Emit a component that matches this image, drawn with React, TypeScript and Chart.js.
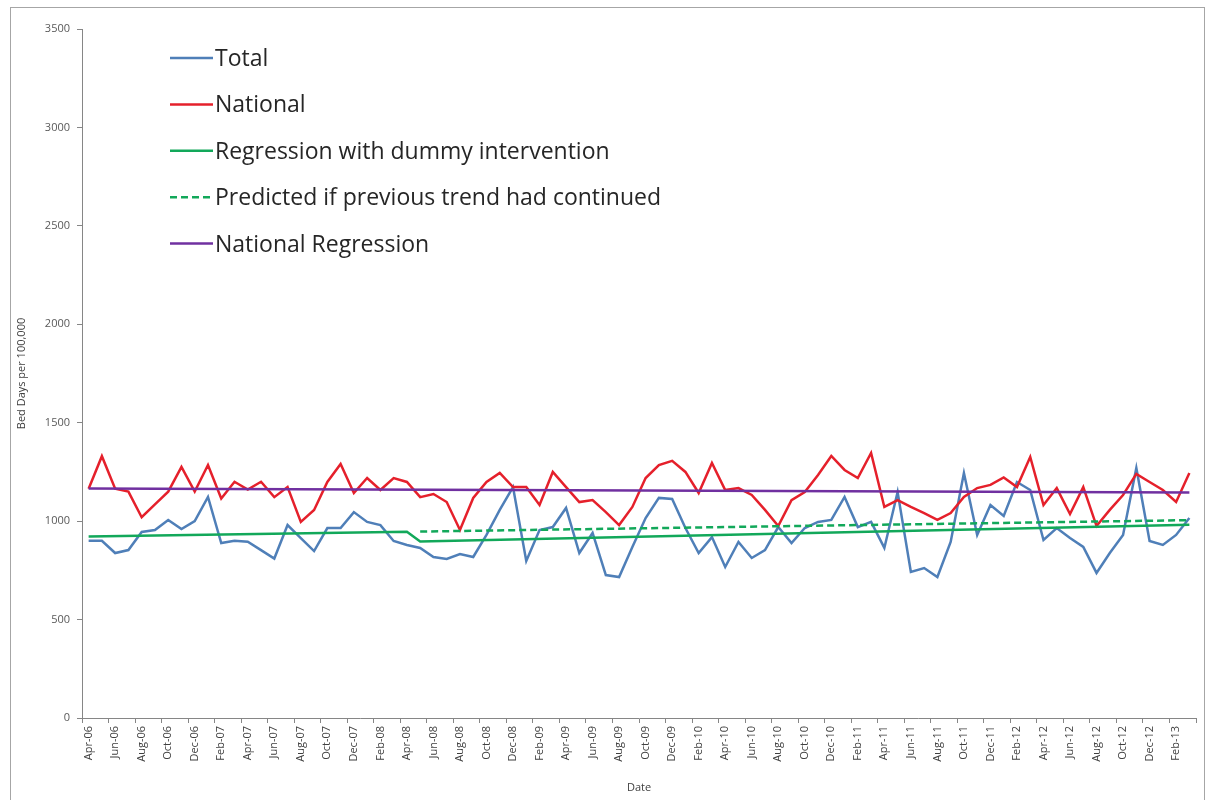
import React, { useEffect, useRef } from 'react';
import { Chart, registerables } from 'chart.js';

Chart.register(...registerables);

const months: string[] = [
  'Apr-06', 'May-06', 'Jun-06', 'Jul-06', 'Aug-06', 'Sep-06', 'Oct-06', 'Nov-06', 'Dec-06', 'Jan-07', 'Feb-07', 'Mar-07',
  'Apr-07', 'May-07', 'Jun-07', 'Jul-07', 'Aug-07', 'Sep-07', 'Oct-07', 'Nov-07', 'Dec-07', 'Jan-08', 'Feb-08', 'Mar-08',
  'Apr-08', 'May-08', 'Jun-08', 'Jul-08', 'Aug-08', 'Sep-08', 'Oct-08', 'Nov-08', 'Dec-08', 'Jan-09', 'Feb-09', 'Mar-09',
  'Apr-09', 'May-09', 'Jun-09', 'Jul-09', 'Aug-09', 'Sep-09', 'Oct-09', 'Nov-09', 'Dec-09', 'Jan-10', 'Feb-10', 'Mar-10',
  'Apr-10', 'May-10', 'Jun-10', 'Jul-10', 'Aug-10', 'Sep-10', 'Oct-10', 'Nov-10', 'Dec-10', 'Jan-11', 'Feb-11', 'Mar-11',
  'Apr-11', 'May-11', 'Jun-11', 'Jul-11', 'Aug-11', 'Sep-11', 'Oct-11', 'Nov-11', 'Dec-11', 'Jan-12', 'Feb-12', 'Mar-12',
  'Apr-12', 'May-12', 'Jun-12', 'Jul-12', 'Aug-12', 'Sep-12', 'Oct-12', 'Nov-12', 'Dec-12', 'Jan-13', 'Feb-13', 'Mar-13',
];

const totalValues: number[] = [
  900, 900, 838, 853, 945, 955, 1006, 960, 1000, 1123, 889, 900,
  895, 853, 810, 980, 914, 848, 965, 965, 1046, 996, 980, 899,
  879, 864, 818, 808, 833, 818, 930, 1057, 1173, 798, 955, 970,
  1067, 838, 940, 726, 716, 869, 1016, 1118, 1113, 965, 838, 919,
  767, 894, 813, 853, 970, 889, 965, 996, 1006, 1123, 970, 996,
  864, 1148, 742, 762, 716, 894, 1245, 930, 1082, 1026, 1199, 1158,
  904, 965, 914, 869, 737, 838, 930, 1270, 899, 879, 930, 1016,
];

const nationalValues: number[] = [
  1165, 1330, 1165, 1150, 1020, 1085, 1150, 1275, 1150, 1285, 1115, 1200,
  1160, 1200, 1122, 1173, 996, 1057, 1199, 1290, 1143, 1219, 1158, 1219,
  1199, 1122, 1138, 1097, 955, 1118, 1199, 1245, 1173, 1173, 1082, 1250,
  1173, 1097, 1107, 1046, 980, 1072, 1219, 1285, 1306, 1250, 1143, 1295,
  1158, 1168, 1133, 1057, 975, 1107, 1148, 1234, 1331, 1260, 1219, 1346,
  1072, 1107, 1072, 1041, 1006, 1041, 1123, 1168, 1184, 1222, 1173, 1326,
  1082, 1168, 1036, 1173, 975, 1057, 1133, 1240, 1199, 1158, 1097, 1245,
];

// Regression lines: end points of each straight segment
const regressionDummy = [
  { x: 'Apr-06', y: 922 },
  { x: 'Apr-08', y: 946 },
  { x: 'May-08', y: 897 },
  { x: 'Mar-13', y: 982 },
];

const predictedTrend = [
  { x: 'May-08', y: 947 },
  { x: 'Mar-13', y: 1005 },
];

const nationalRegression = [
  { x: 'Apr-06', y: 1166 },
  { x: 'Mar-13', y: 1146 },
];

const yTicks: number[] = [0, 500, 1000, 1500, 2000, 2500, 3000, 3500];

const seriesNames = [
  'Total',
  'National',
  'Regression with dummy intervention',
  'Predicted if previous trend had continued',
  'National Regression',
];

const AXIS_GRAY = '#868686';

const insideLegend = {
  id: 'insideLegend',
  afterDraw(chart: any) {
    const { ctx, chartArea } = chart;
    const x0 = chartArea.left + 88;
    const y0 = chartArea.top + 29;
    const gap = 46.4;
    chart.data.datasets.forEach((ds: any, i: number) => {
      const y = y0 + i * gap;
      ctx.save();
      ctx.strokeStyle = ds.borderColor;
      ctx.lineWidth = 2.5;
      ctx.setLineDash(ds.borderDash || []);
      ctx.beginPath();
      ctx.moveTo(x0, y);
      ctx.lineTo(x0 + 43, y);
      ctx.stroke();
      ctx.setLineDash([]);
      ctx.fillStyle = '#262626';
      ctx.font = '23px "Open Sans"';
      ctx.textBaseline = 'alphabetic';
      ctx.textAlign = 'left';
      ctx.fillText(ds.label, x0 + 45, y + 8);
      ctx.restore();
    });
  },
};

export default function App() {
  const canvasRef = useRef<HTMLCanvasElement | null>(null);

  useEffect(() => {
    if (!canvasRef.current) return;
    Chart.defaults.font.family = '"Open Sans", "Liberation Sans", sans-serif';

    const tickMarkColor = (c: any) =>
      c.index === undefined || c.index % 2 === 0 ? AXIS_GRAY : 'rgba(0,0,0,0)';

    const chart = new Chart(canvasRef.current, {
      type: 'line',
      data: {
        labels: months,
        datasets: [
          {
            label: seriesNames[0],
            data: totalValues,
            borderColor: '#4F7FB8',
            borderWidth: 2.5,
            pointRadius: 0,
            tension: 0,
            order: 5,
          },
          {
            label: seriesNames[1],
            data: nationalValues,
            borderColor: '#E5202B',
            borderWidth: 2.5,
            pointRadius: 0,
            tension: 0,
            order: 4,
          },
          {
            label: seriesNames[2],
            data: regressionDummy as any,
            borderColor: '#12A85A',
            borderWidth: 2.5,
            pointRadius: 0,
            tension: 0,
            order: 3,
          },
          {
            label: seriesNames[3],
            data: predictedTrend as any,
            borderColor: '#12A85A',
            borderWidth: 2.5,
            borderDash: [7, 4],
            pointRadius: 0,
            tension: 0,
            order: 2,
          },
          {
            label: seriesNames[4],
            data: nationalRegression as any,
            borderColor: '#7030A0',
            borderWidth: 2.5,
            pointRadius: 0,
            tension: 0,
            order: 1,
          },
        ],
      },
      options: {
        animation: false,
        responsive: true,
        maintainAspectRatio: false,
        layout: { padding: { left: 10, top: 29, right: 13, bottom: 0 } },
        plugins: {
          legend: { display: false },
          tooltip: { enabled: false },
        },
        scales: {
          x: {
            type: 'category',
            offset: true,
            afterFit: (scale: any) => {
              scale.height = 82;
            },
            border: { display: true, color: AXIS_GRAY, width: 1 },
            grid: {
              display: true,
              offset: true,
              drawOnChartArea: false,
              drawTicks: true,
              tickLength: 5,
              color: tickMarkColor,
              tickColor: tickMarkColor,
            },
            ticks: {
              autoSkip: false,
              maxRotation: 90,
              minRotation: 90,
              padding: 3,
              color: '#404040',
              font: { size: 11 },
              callback: function (this: any, val: any, index: number) {
                return index % 2 === 0 ? this.getLabelForValue(val) : '';
              },
            },
            title: {
              display: true,
              text: 'Date',
              color: '#404040',
              font: { size: 11 },
              padding: { top: 0, bottom: 6 },
            },
          },
          y: {
            min: 0,
            max: 3500,
            afterFit: (scale: any) => {
              scale.width = 72;
            },
            afterBuildTicks: (scale: any) => {
              scale.ticks = yTicks.map((v) => ({ value: v }));
            },
            border: { display: true, color: AXIS_GRAY, width: 1 },
            grid: {
              display: true,
              drawOnChartArea: false,
              drawTicks: true,
              tickLength: 5,
              color: AXIS_GRAY,
            },
            ticks: {
              color: '#595959',
              font: { size: 11 },
              padding: 7,
              callback: (val: any) => String(val),
            },
            title: {
              display: true,
              text: 'Bed Days per 100,000',
              color: '#404040',
              font: { size: 11 },
              padding: { top: 5, bottom: 0 },
            },
          },
        },
      },
      plugins: [insideLegend],
    });

    return () => {
      chart.destroy();
    };
  }, []);

  return (
    <div style={{ position: 'absolute', left: 0, top: 0, width: 1209, height: 800, background: '#ffffff', overflow: 'hidden' }}>
      <div
        style={{
          position: 'absolute',
          left: 10,
          top: 7,
          width: 1195,
          height: 800,
          border: '1px solid #a6a6a6',
          boxSizing: 'border-box',
        }}
      />
      <div style={{ position: 'absolute', left: 0, top: 0, width: 1209, height: 800 }}>
        <canvas ref={canvasRef} />
      </div>
    </div>
  );
}
